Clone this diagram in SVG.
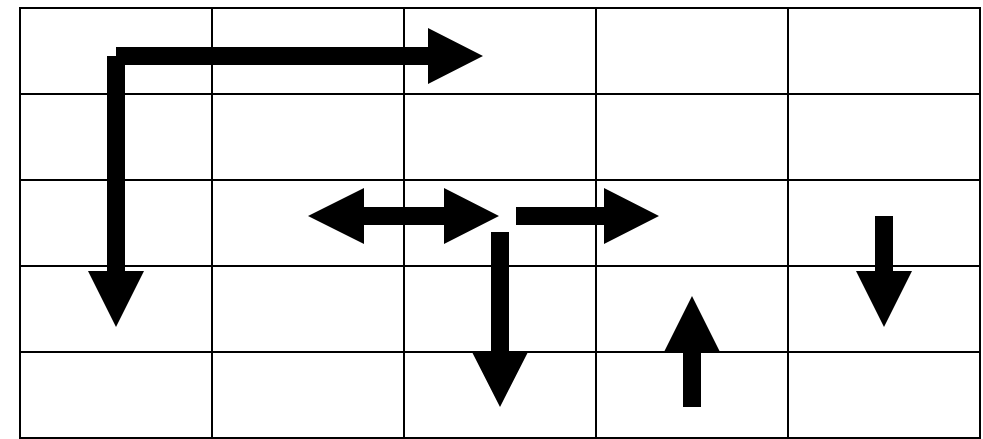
<svg xmlns="http://www.w3.org/2000/svg" width="983" height="439" viewBox="0 0 983 439">
<style>
.grid{stroke:#000;stroke-width:2;fill:none}
.arrow{fill:#000;stroke:none}
</style>
<rect width="983" height="439" fill="#fff"/>
<g id="grid" class="grid">
<rect x="20" y="8" width="960" height="430"/>
<line x1="212" y1="8" x2="212" y2="438"/>
<line x1="404" y1="8" x2="404" y2="438"/>
<line x1="596" y1="8" x2="596" y2="438"/>
<line x1="788" y1="8" x2="788" y2="438"/>
<line x1="20" y1="94" x2="980" y2="94"/>
<line x1="20" y1="180" x2="980" y2="180"/>
<line x1="20" y1="266" x2="980" y2="266"/>
<line x1="20" y1="352" x2="980" y2="352"/>
</g>
<g id="connectors" class="arrow">
<polygon id="arrow-top-right" points="116,47 428,47 428,28 483,56 428,84 428,65 116,65"/>
<polygon id="arrow-left-down" points="107,56 125,56 125,271 144,271 116,327 88,271 107,271"/>
<polygon id="arrow-double" points="308,216 364,188 364,207 444,207 444,188 499,216 444,244 444,225 364,225 364,244"/>
<polygon id="arrow-mid-right" points="516,207 604,207 604,188 659,216 604,244 604,225 516,225"/>
<polygon id="arrow-mid-down" points="491,232 509,232 509,352 528,352 500,407 472,352 491,352"/>
<polygon id="arrow-up" points="683,407 701,407 701,352 720,352 692,296 664,352 683,352"/>
<polygon id="arrow-right-down" points="875,216 893,216 893,271 912,271 884,327 856,271 875,271"/>
</g>
</svg>
